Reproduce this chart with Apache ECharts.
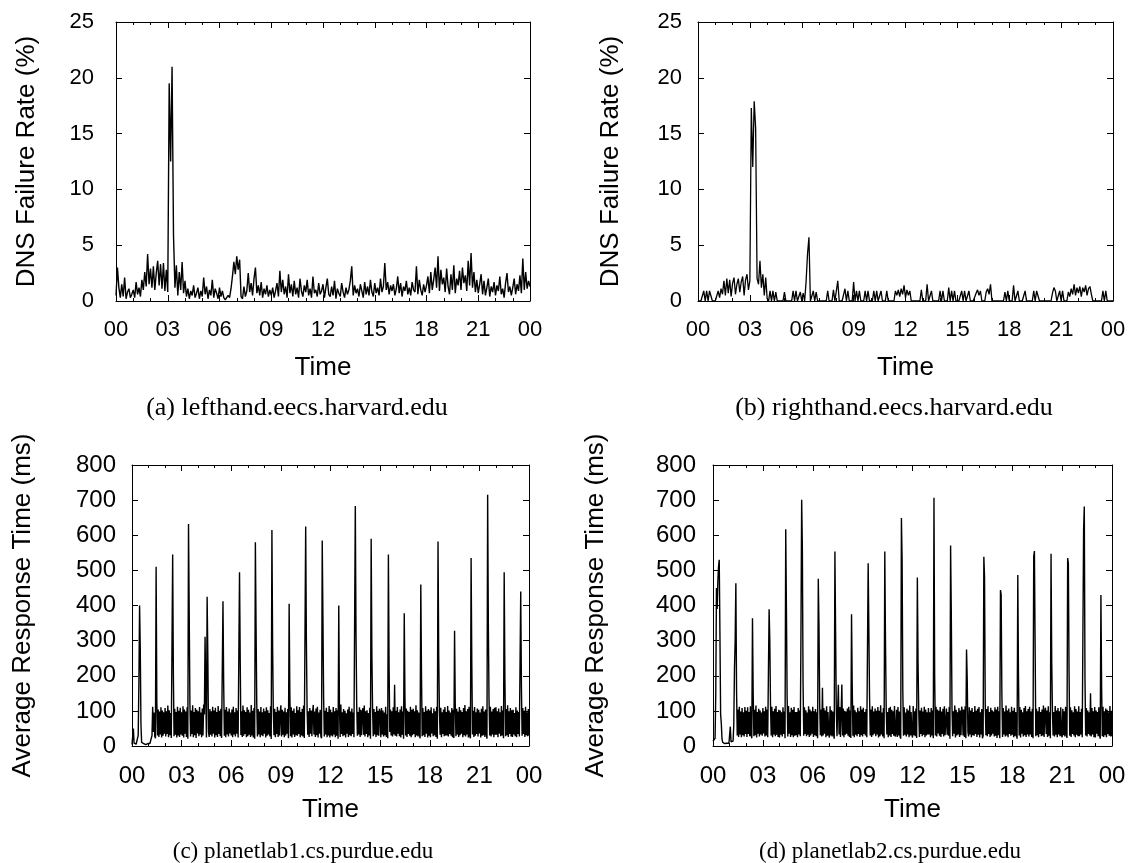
<!DOCTYPE html>
<html>
<head>
<meta charset="utf-8">
<script src="https://cdn.jsdelivr.net/npm/echarts@6/dist/echarts.min.js"></script>
<style>
html,body{margin:0;padding:0;background:#fff;}
#chart{width:1129px;height:863px;}
</style>
</head>
<body>
<div id="chart"></div>
<script>
// ---------- DATA ----------
const xTickLabels = ['00','03','06','09','12','15','18','21','00'];
const panelTitles = ['(a) lefthand.eecs.harvard.edu','(b) righthand.eecs.harvard.edu','(c) planetlab1.cs.purdue.edu','(d) planetlab2.cs.purdue.edu'];
const yNames = ['DNS Failure Rate (%)','DNS Failure Rate (%)','Average Response Time (ms)','Average Response Time (ms)'];
const xName = 'Time';

// (a) lefthand DNS failure rate (%), 5-minute samples from 00:00
const lefthand = [
0.5,3.0,1.2,0.3,1.5,0.4,2.1,0.2,0.8,1.1,0.3,0.6,
1.0,0.3,1.7,0.6,1.2,0.4,1.9,1.0,2.6,1.3,4.2,1.5,
2.9,1.2,3.1,1.0,2.5,3.6,1.4,3.3,1.1,3.4,0.9,2.8,
0.8,19.5,12.5,21.0,5.9,1.2,3.2,0.5,2.6,1.0,3.5,0.7,
1.8,0.4,1.1,0.2,0.9,0.5,1.4,0.3,0.7,1.2,0.2,0.9,
0.4,2.1,0.6,1.3,0.2,1.0,0.5,1.9,0.3,1.1,0.7,0.2,
1.2,0.4,0.9,0.3,0.1,0.2,0.5,0.3,1.1,2.2,3.5,2.4,
4.0,2.8,3.7,0.4,0.2,1.3,0.4,0.9,2.5,0.8,1.6,0.5,
2.0,3.0,0.7,1.4,0.5,1.7,0.3,1.1,0.6,1.4,0.4,1.0,
0.5,1.2,0.3,0.9,1.6,0.4,2.7,0.8,1.9,0.6,1.3,0.3,
2.4,0.7,1.5,0.4,1.8,0.6,1.2,0.3,2.0,0.9,0.4,1.4,
0.8,1.9,0.5,1.1,0.3,2.2,0.7,1.0,0.4,1.6,0.6,0.9,
1.5,0.3,1.2,2.0,0.6,0.4,1.3,0.5,1.8,0.2,1.1,0.7,
0.4,1.6,0.8,0.3,1.2,0.6,1.0,1.8,3.1,0.5,1.4,0.7,
1.1,0.4,1.5,0.9,0.3,1.7,0.6,1.3,0.5,1.9,0.8,0.4,
1.6,0.7,1.2,0.5,2.0,0.8,1.3,3.4,1.0,1.7,0.6,1.4,
0.9,1.5,0.5,1.1,2.2,0.7,1.6,0.4,1.3,0.9,1.8,0.6,
1.2,0.5,1.7,1.0,0.8,3.1,0.6,1.9,1.0,0.5,1.5,0.8,
1.4,2.2,0.7,2.6,1.0,1.9,3.0,1.2,4.0,0.9,2.8,1.5,
2.1,0.8,2.9,1.3,0.6,2.4,1.0,3.2,0.7,2.0,1.4,2.7,
1.0,3.0,1.6,2.3,0.9,3.6,1.4,4.3,1.2,2.6,0.8,1.9,
0.7,1.5,2.4,0.6,1.8,0.5,1.2,2.0,0.4,1.3,0.8,1.7,
0.5,1.4,0.9,2.2,0.6,1.1,0.3,1.6,2.5,0.8,1.3,0.5,
1.2,2.0,0.6,1.5,0.9,2.3,0.7,3.8,1.0,2.6,1.1,1.8,
1.3];

// (b) righthand DNS failure rate (%), 5-minute samples from 00:00
const righthand = [
0,0,0,0,0.9,0,0.9,0,0.9,0.8,0,0,
0,0,0.9,0.3,1.1,0.6,1.8,0.5,2.0,0.7,1.9,0.4,
1.6,2.1,0.6,1.5,2.0,0.8,1.7,2.2,0.5,1.9,2.4,1.0,
1.8,17.3,12.0,17.9,15.5,2.0,1.5,3.6,1.2,2.4,0.5,2.1,
0.2,0,0.9,0,0.9,0,0.8,0,0,0,0,0,
0.8,0,0,0,0,0,0.9,0,0.9,0,0,0.8,
0,0.7,0,1.7,4.2,5.7,0,0,0.9,0,0.8,0,
0,0,0,0,0,0,0.9,0,0,0,1.0,0,
0,1.8,0,0,0,0,1.1,0,0.9,0,0,0,
1.7,0,0.9,0,0.9,0,0,0,0.9,0,0.9,0,
0,0,0.9,0,0.9,0,0,0.9,0,0,0,0.9,
0,0,0,0,0,0.9,0.5,1.0,0.4,1.1,0.6,1.4,
0.3,1.0,0.5,0.9,0,0,0,0,0,0,0,1.0,
0,0,0,1.5,0,0,0.9,0,0,0,0,0,
0.9,0,0.9,0,0,0,1.2,0,0.9,0,0.9,0,
0,0,0,0.9,0,0.9,0,0,0.9,0,0,0,
0,0.7,1.0,0.5,0.9,0,0,0,0.8,1.1,0.6,1.5,
0,0,0,0,0,0,0,0,0,0.8,0,0.9,
0,0,0,1.4,0,0,0.9,0,0,0,0,0.9,
0,0,0,0,0,0.9,0,0.9,0.8,0,0,0,
0,0,0,0,0,0,0.7,1.2,0.9,0,0,0.9,
0,0.9,0,0,0,0.8,0.4,1.1,0.6,1.5,0.5,1.2,
0.7,1.3,0.4,1.2,0.8,1.4,0.5,1.1,1.3,0.6,0,0,
0,0,0,0,0,0.9,0,0.9,0,0,0,0,
0];

// (c) planetlab1 average response time (ms), 2.5-minute samples from 00:00
const planetlab1 = [
4,3,50,8,4,3,5,4,6,30,180,400,275,60,10,6,5,7,5,6,4,6,5,7,
6,5,7,5,8,30,112,40,95,28,22,510,130,30,104,26,98,33,110,24,101,29,96,35,
108,27,99,34,115,25,102,31,94,23,20,545,210,28,106,32,97,24,112,30,100,26,109,33,
96,29,113,24,104,35,98,26,110,21,632,380,120,27,101,34,116,25,97,31,108,23,103,36,
99,28,111,33,95,25,107,30,118,90,311,150,24,425,260,40,26,105,32,99,27,112,35,101,
24,109,31,97,26,114,34,100,28,106,23,21,412,180,29,103,25,111,33,98,27,107,36,95,
30,104,25,112,33,96,27,108,35,101,24,20,495,250,31,99,26,115,29,102,34,97,25,110,
28,103,32,95,26,117,30,100,24,108,21,580,340,120,27,105,33,98,25,111,31,96,28,107,
35,99,24,110,29,102,33,94,27,113,20,615,290,100,31,106,25,97,34,112,26,101,30,95,
116,27,103,32,98,25,109,30,96,35,105,22,405,150,28,110,24,100,33,107,26,94,31,113,
29,102,34,111,25,97,30,106,27,115,23,21,625,300,110,32,99,26,108,35,101,28,96,117,
33,98,26,107,31,112,24,95,35,103,28,22,585,370,140,27,100,33,109,25,97,30,114,24,
104,30,96,27,111,33,99,25,108,29,102,21,400,110,26,118,34,96,28,105,31,100,24,93,
35,104,26,112,31,98,28,107,34,95,25,20,683,320,120,29,97,33,110,26,103,31,96,108,
32,115,27,99,34,102,25,94,30,109,21,590,270,110,28,105,33,97,26,113,31,100,29,106,
96,25,108,33,101,27,95,31,112,26,90,22,545,230,40,104,30,99,27,110,33,174,29,100,
27,111,35,96,28,104,24,113,32,98,21,378,140,30,107,26,100,34,97,29,112,25,103,31,
106,34,99,25,116,30,102,27,95,33,22,460,210,28,108,31,97,26,113,35,100,24,105,29,
101,25,110,36,93,28,107,31,99,26,112,21,582,260,100,32,109,25,96,34,104,28,111,30,
97,30,114,27,101,34,95,29,108,25,103,23,328,120,28,106,33,98,26,111,31,102,35,97,
25,108,31,117,27,99,33,105,24,112,30,22,535,240,33,100,26,111,29,96,34,107,27,103,
36,95,24,106,29,113,31,98,26,104,35,21,715,350,130,30,112,27,98,33,105,25,109,32,
110,32,99,25,107,35,96,28,114,30,101,22,495,200,28,105,31,116,26,99,34,108,27,102,
26,103,33,94,28,110,25,101,34,97,27,23,440,170,29,108,34,100,26,112,31,96,28,105,
30];

// (d) planetlab2 average response time (ms), 2.5-minute samples from 00:00
const planetlab2 = [
14,12,16,22,150,450,390,470,510,530,320,90,64,20,10,8,9,7,8,10,8,9,7,8,
9,55,12,8,10,14,60,220,300,463,160,30,104,26,112,33,98,25,108,31,96,27,111,34,
100,26,110,34,97,28,113,31,22,364,150,28,103,31,115,24,97,35,106,27,101,33,95,29,
108,36,99,27,112,30,104,25,21,389,300,120,30,112,25,99,33,106,28,114,32,97,26,103,
24,101,32,96,27,110,34,98,22,617,390,140,27,114,35,96,26,109,31,103,25,111,29,97,
31,97,25,108,33,101,28,330,701,565,180,29,110,34,102,28,95,32,113,26,104,30,99,35,
112,26,99,31,105,28,96,22,476,340,120,31,104,27,166,30,108,35,101,25,113,29,97,33,
24,113,30,102,27,98,34,21,554,320,100,28,105,174,33,111,26,96,175,30,107,25,100,32,
98,35,107,29,112,26,101,23,375,170,29,115,25,102,32,96,28,109,34,99,26,113,31,104,
27,109,34,97,30,105,25,22,520,515,140,30,104,26,113,31,98,35,107,28,100,33,111,24,
100,28,116,33,95,27,108,22,554,300,110,33,97,25,108,30,112,26,103,34,99,29,114,27,
35,103,26,111,30,98,27,21,649,530,160,29,110,32,95,27,106,33,101,25,115,30,97,34,
24,114,31,99,28,107,23,480,240,100,26,101,34,109,28,98,32,112,25,104,30,96,33,108,
33,96,25,108,30,101,22,707,200,30,112,27,104,36,100,29,111,26,98,34,106,27,113,31,
26,107,32,97,29,111,21,571,380,110,28,99,35,115,24,103,30,96,33,108,26,101,31,112,
98,30,104,26,113,22,275,190,40,27,110,33,101,25,108,31,97,29,114,34,100,26,106,32,
111,24,96,33,105,22,30,539,480,120,31,105,28,113,34,97,26,109,30,102,35,98,27,110,
29,104,23,112,31,99,22,444,430,150,26,108,33,98,27,115,30,101,25,107,34,96,29,112,
32,100,25,109,28,97,34,21,487,200,30,111,24,103,35,96,27,108,31,114,26,99,33,105,
27,112,33,98,26,106,22,540,555,290,28,106,31,99,25,111,34,97,28,104,30,115,26,100,
109,34,101,26,113,29,96,22,547,240,100,30,97,27,114,32,101,25,108,33,99,28,110,31,
25,106,31,99,27,112,34,23,535,520,210,29,110,26,102,34,96,30,113,25,105,32,98,28,
113,28,97,33,106,25,22,615,682,190,30,108,27,101,34,96,30,150,27,108,33,99,25,111,
24,101,35,97,28,110,31,21,430,170,28,112,26,99,31,107,25,103,34,96,29,114,27,100,
28];

const seriesValues = [lefthand, righthand, planetlab1, planetlab2];
const samplesPerHour = [12, 12, 24, 24];
const yMax = [25, 25, 800, 800];
const yInterval = [5, 5, 100, 100];

// ---------- LAYOUT ----------
const grids = [
  {left:116, top:22, width:414, height:279},
  {left:698, top:22, width:415, height:279},
  {left:132, top:465, width:397, height:281},
  {left:713, top:465, width:399, height:281}
];
const tickFont = [22, 22, 24, 24];
const nameFont = 26;
const yNameGap = [76, 74, 96, 104];
const yLabelMargin = [22, 16, 16, 17];
const xNameGap = [54, 54, 51, 51];
const lineWidths = [1.4, 1.3, 1.4, 1.4];
const captionFont = [26, 26, 23, 23];
const captionPos = [[292,390],[889,390],[298,835],[885,835]];

const SANS = '"Liberation Sans", Arial, Helvetica, sans-serif';
const SERIF = '"Liberation Serif", "Times New Roman", serif';
const black = '#000';

const xAxes = [], yAxes = [], series = [], titles = [];
grids.forEach((g, i) => {
  const common = {
    type:'value', gridIndex:i, min:0, max:24, interval:3,
    axisLine:{show:true, onZero:false, lineStyle:{color:black, width:1}},
    axisTick:{show:true, inside:true, length:6, lineStyle:{color:black}},
    minorTick:{show:true, splitNumber:3, length:3, lineStyle:{color:black}},
    splitLine:{show:false}, minorSplitLine:{show:false}
  };
  xAxes.push(Object.assign({}, common, {
    position:'bottom',
    name:xName, nameLocation:'middle', nameGap:xNameGap[i],
    nameTextStyle:{fontFamily:SANS, fontSize:nameFont, color:black},
    axisLabel:{show:true, margin:18, fontFamily:SANS, fontSize:tickFont[i], color:black,
      formatter:(v)=>xTickLabels[Math.round(v/3)]}
  }));
  xAxes.push(Object.assign({}, common, {position:'top', axisLabel:{show:false}}));
  const ycommon = {
    type:'value', gridIndex:i, min:0, max:yMax[i], interval:yInterval[i],
    axisLine:{show:true, onZero:false, lineStyle:{color:black, width:1}},
    axisTick:{show:true, inside:true, length:6, lineStyle:{color:black}},
    splitLine:{show:false}
  };
  yAxes.push(Object.assign({}, ycommon, {
    position:'left',
    name:yNames[i], nameLocation:'middle', nameGap:yNameGap[i], nameRotate:90,
    nameTextStyle:{fontFamily:SANS, fontSize:nameFont, color:black},
    axisLabel:{show:true, margin:yLabelMargin[i], fontFamily:SANS, fontSize:tickFont[i], color:black}
  }));
  yAxes.push(Object.assign({}, ycommon, {position:'right', axisLabel:{show:false}}));
  const vals = seriesValues[i];
  const step = 1 / samplesPerHour[i];
  series.push({
    type:'line', xAxisIndex:2*i, yAxisIndex:2*i,
    data: vals.map((v, k) => [k*step, v]),
    showSymbol:false, symbol:'none', sampling:null, animation:false, silent:true,
    lineStyle:{color:black, width:lineWidths[i]}, clip:true
  });
  titles.push({
    text:panelTitles[i], left:captionPos[i][0], top:captionPos[i][1], textAlign:'center',
    textStyle:{fontFamily:SERIF, fontSize:captionFont[i], fontWeight:'normal', color:black}
  });
});

const chart = echarts.init(document.getElementById('chart'), null, {renderer:'canvas'});
chart.setOption({
  animation:false,
  backgroundColor:'#fff',
  title:titles,
  grid:grids.map(g=>Object.assign({containLabel:false}, g)),
  xAxis:xAxes, yAxis:yAxes, series:series
});
</script>
</body>
</html>
